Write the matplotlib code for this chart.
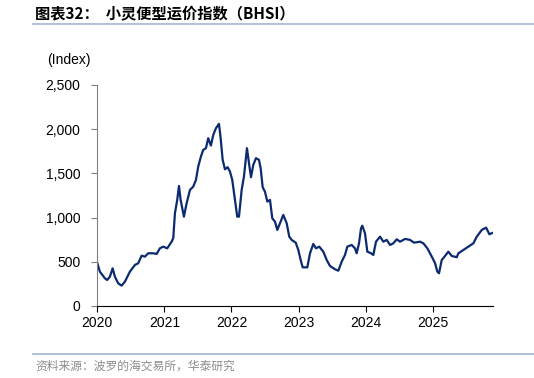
import matplotlib
matplotlib.use("Agg")
import matplotlib.pyplot as plt
from matplotlib.ticker import FuncFormatter, FixedLocator
from matplotlib.lines import Line2D

plt.rcParams['font.family'] = ['Liberation Sans', 'Noto Sans CJK SC', 'DejaVu Sans']

# fractional years since 2020
t = [0.000, 0.040, 0.115, 0.149, 0.189, 0.230, 0.264, 0.313, 0.364, 0.413,
     0.487, 0.562, 0.611, 0.662, 0.711, 0.760, 0.835, 0.885, 0.934, 0.984,
     1.043, 1.109, 1.133, 1.158, 1.192, 1.218, 1.243, 1.292, 1.332, 1.382,
     1.431, 1.471, 1.505, 1.545, 1.580, 1.620, 1.654, 1.694, 1.729, 1.769,
     1.814, 1.839, 1.869, 1.903, 1.943, 1.978, 2.012, 2.052, 2.086, 2.112,
     2.152, 2.186, 2.216, 2.231, 2.261, 2.291, 2.325, 2.365, 2.410, 2.435,
     2.465, 2.499, 2.534, 2.574, 2.608, 2.648, 2.683, 2.723, 2.772, 2.823,
     2.861, 2.897, 2.957, 2.996, 3.031, 3.061, 3.130, 3.170, 3.219, 3.259,
     3.308, 3.368, 3.419, 3.468, 3.543, 3.592, 3.642, 3.691, 3.726, 3.791,
     3.840, 3.865, 3.900, 3.930, 3.949, 3.989, 4.024, 4.079, 4.113, 4.153,
     4.213, 4.262, 4.313, 4.362, 4.411, 4.462, 4.511, 4.586, 4.660, 4.720,
     4.809, 4.858, 4.918, 4.984, 5.033, 5.067, 5.092, 5.132, 5.166, 5.231,
     5.281, 5.356, 5.380, 5.455, 5.529, 5.604, 5.654, 5.729, 5.793, 5.842,
     5.902]
bhsi = [490, 388, 313, 294, 331, 426, 331, 256, 230, 275,
        388, 464, 483, 569, 558, 596, 596, 588, 652, 671,
        652, 727, 766, 1048, 1199, 1357, 1199, 1010, 1161, 1312,
        1350, 1425, 1576, 1689, 1765, 1784, 1897, 1814, 1934, 2010,
        2059, 1897, 1652, 1546, 1569, 1519, 1425, 1199, 1010, 1010,
        1312, 1463, 1671, 1784, 1614, 1456, 1595, 1671, 1652, 1557,
        1343, 1293, 1180, 1199, 992, 954, 860, 935, 1029, 935,
        784, 747, 716, 633, 520, 437, 437, 596, 701, 652,
        671, 614, 520, 452, 415, 399, 501, 577, 671, 690,
        652, 596, 709, 879, 908, 822, 614, 596, 577, 727,
        784, 727, 747, 690, 709, 754, 727, 758, 747, 716,
        727, 709, 652, 558, 483, 388, 370, 520, 551, 614,
        566, 551, 596, 633, 671, 709, 784, 860, 886, 811,
        830]
x_years = [2020 + v for v in t]

year_ticks = [2020, 2021, 2022, 2023, 2024, 2025]
y_ticks = [0, 500, 1000, 1500, 2000, 2500]

fig = plt.figure(figsize=(5.34, 3.78), dpi=100)
ax = fig.add_axes([0.182, 0.1905, 0.742, 0.585])
ax.plot(x_years, bhsi, color='#0b2a6f', lw=1.6, solid_joinstyle='round')

ax.set_xlim(2020, 2020 + 5.902)
ax.set_ylim(0, 2500)
ax.xaxis.set_major_locator(FixedLocator(year_ticks))
ax.xaxis.set_major_formatter(FuncFormatter(lambda v, p: f"{int(round(v))}"))
ax.yaxis.set_major_locator(FixedLocator(y_ticks))
ax.yaxis.set_major_formatter(FuncFormatter(lambda v, p: f"{int(v):,}"))

for s in ['top', 'right']:
    ax.spines[s].set_visible(False)
ax.spines['left'].set_color('#808080')
ax.spines['bottom'].set_color('#000000')
ax.tick_params(axis='y', direction='out', length=4, color='#808080', labelsize=10, pad=8)
ax.tick_params(axis='x', direction='out', length=4, color='#000000', labelsize=10, pad=3)
ax.set_facecolor('none')

fig.text(47 / 534, 1 - 60 / 378, '(Index)', fontsize=10, va='center', ha='left')

fig.text(35 / 534, 1 - 14 / 378, '图表32：  小灵便型运价指数（BHSI）', fontsize=11,
         fontweight='bold', va='center', ha='left',
         family=['Noto Sans CJK SC', 'DejaVu Sans'])
fig.add_artist(Line2D([33 / 534, 1.0], [1 - 24 / 378, 1 - 24 / 378],
                      color='#9fb6cf', lw=1.2, transform=fig.transFigure))
fig.add_artist(Line2D([33 / 534, 1.0], [1 - 354 / 378, 1 - 354 / 378],
                      color='#9fb6cf', lw=1.2, transform=fig.transFigure))
fig.text(35 / 534, 1 - 366 / 378, '资料来源：波罗的海交易所，华泰研究', fontsize=8.5,
         color='#8c8c8c', va='center', ha='left',
         family=['Noto Sans CJK SC', 'DejaVu Sans'])

fig.savefig('out.png', dpi=100)
